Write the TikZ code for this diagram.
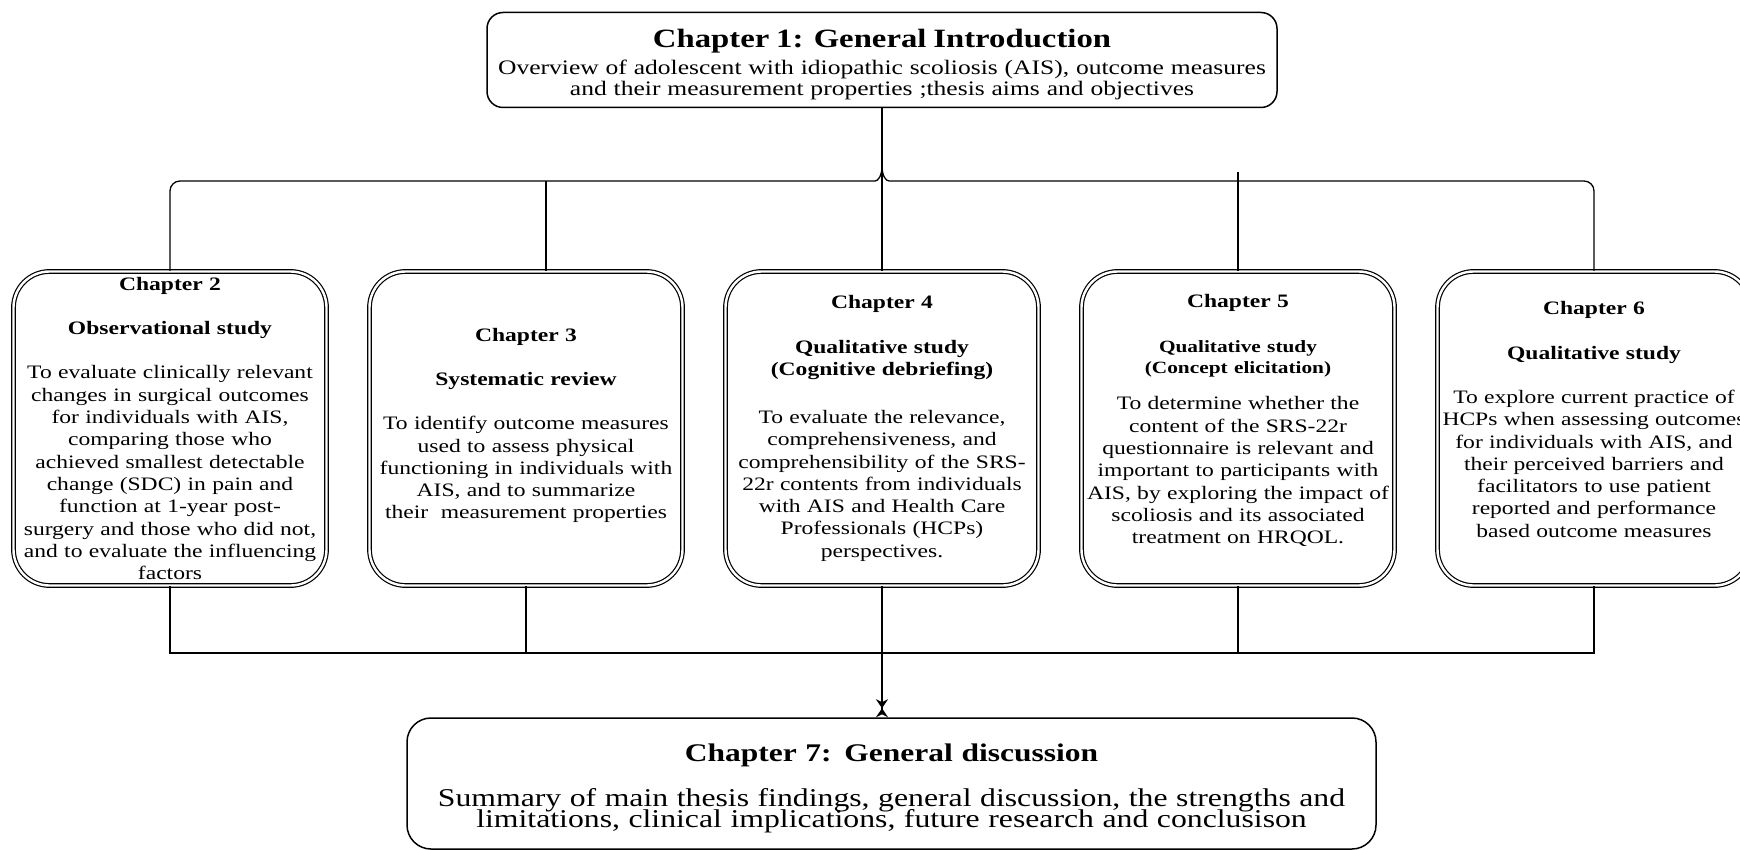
\documentclass[tikz,border=0pt]{standalone}
\usepackage{fontspec}
\setmainfont[FakeStretch=1.24]{Liberation Serif}
\usepackage{tikz}
\usetikzlibrary{arrows.meta,calc,positioning}
\lineskiplimit=-6pt
\normallineskiplimit=-6pt

\begin{document}
\begin{tikzpicture}[x=0.5pt,y=-0.5pt,
  chapbox/.style={draw,double,double distance=1.2pt,line width=0.6pt,
    rounded corners=18pt,minimum width=156.5pt,minimum height=157pt,
    text width=168pt,inner xsep=-5.75pt,inner ysep=0pt,align=center,
    font=\fontsize{9.5}{11.15}\selectfont},
  mainbox/.style={draw,line width=0.75pt,align=center,inner sep=0pt},
  link/.style={line width=0.65pt},
  bowtie/.style={-{Stealth[length=4.5pt,width=6pt] Stealth[length=4.5pt,width=6pt,reversed]}}]
\useasboundingbox (0,0) rectangle (1740,850);

% Chapter 1
\node[mainbox,rounded corners=8pt,minimum width=395pt,minimum height=47.5pt,text width=395pt,
  font=\fontsize{10.3}{10.85}\selectfont] (ch1) at (882,60)
  {{\fontsize{13.2}{15}\selectfont\bfseries\rule{0pt}{14pt}Chapter 1: General Introduction}\\[2.4pt]
   Overview of adolescent with idiopathic scoliosis (AIS), outcome measures\\
   and their measurement properties ;thesis aims and objectives};

% Chapters 2 to 6
\node[chapbox] (ch2) at (170,428.5)
  {\textbf{Chapter 2}\\[11pt]
   \textbf{Observational study}\\[11pt]
   To evaluate clinically relevant\\ changes in surgical outcomes\\ for individuals with AIS,\\
   comparing those who\\ achieved smallest detectable\\ change (SDC) in pain and\\
   function at 1-year post-\\ surgery and those who did not,\\ and to evaluate the influencing\\ factors};
\node[chapbox] (ch3) at (526,428.5)
  {\textbf{Chapter 3}\\[11pt]
   \textbf{Systematic review}\\[11pt]
   To identify outcome measures\\ used to assess physical\\ functioning in individuals with\\
   AIS, and to summarize\\ their\ \ measurement properties\rule[-5pt]{0pt}{1pt}};
\node[chapbox] (ch4) at (882,428.5)
  {\textbf{Chapter 4}\\[11pt]
   \textbf{Qualitative study}\\ \textbf{(Cognitive debriefing)}\\[12.8pt]
   To evaluate the relevance,\\ comprehensiveness, and\\ comprehensibility of the SRS-\\
   22r contents from individuals\\ with AIS and Health Care\\ Professionals (HCPs)\\ perspectives.};
\node[chapbox] (ch5) at (1238,428.5)
  {\textbf{Chapter 5}\\[11.5pt]
   {\fontsize{8.6}{10}\selectfont\bfseries Qualitative study}\\[-0.6pt]
   {\fontsize{8.6}{10}\selectfont\bfseries (Concept elicitation)}\\[6.9pt]
   To determine whether the\\ content of the SRS-22r\\ questionnaire is relevant and\\
   important to participants with\\ AIS, by exploring the impact of\\ scoliosis and its associated\\
   treatment on HRQOL.\rule[-9.5pt]{0pt}{1pt}};
\node[chapbox] (ch6) at (1594,428.5)
  {\textbf{Chapter 6}\\[11pt]
   \textbf{Qualitative study}\\[11pt]
   To explore current practice of\\ HCPs when assessing outcomes\\ for individuals with AIS, and\\
   their perceived barriers and\\ facilitators to use patient\\ reported and performance\\
   based outcome measures\rule[-9pt]{0pt}{1pt}};

% Chapter 7
\node[mainbox,rounded corners=12pt,minimum width=484.5pt,minimum height=65.5pt,text width=484pt,
  font=\fontsize{12.8}{10.5}\selectfont] (ch7) at (891.5,783.5)
  {{\fontsize{12.7}{15}\selectfont\bfseries\rule{0pt}{14pt}Chapter 7: General discussion}\\[12.1pt]
   Summary of main thesis findings, general discussion, the strengths and\\
   limitations, clinical implications, future research and conclusison};

% Top bus
\coordinate (topbus) at (0,181);
\coordinate (botbus) at (0,653);
\coordinate (junc) at ($(ch4.north |- topbus)+(0,-15)$);
\draw[link] (ch1.south) -- (ch4.north);
\draw[link,rounded corners=5pt] (ch2.north) |- ($(junc)+(-17,15)$) .. controls +(13,0) and +(0,10) .. (junc);
\draw[link,rounded corners=5pt] (ch6.north) |- ($(junc)+(17,15)$) .. controls +(-13,0) and +(0,10) .. (junc);
\draw[link] ($(ch3.north)+(20,0)$) -- ($(ch3.north |- topbus)+(20,0)$);
\draw[link] (ch5.north) -- ($(ch5.north |- topbus)+(0,-9)$);

% Bottom bus
\draw[link] (ch2.south) |- (ch6.south |- botbus) -- (ch6.south);
\draw[link] (ch3.south) -- (ch3.south |- botbus);
\draw[link] (ch5.south) -- (ch5.south |- botbus);
\draw[link,bowtie] (ch4.south) -- (ch4.south |- ch7.north);
\end{tikzpicture}
\end{document}
